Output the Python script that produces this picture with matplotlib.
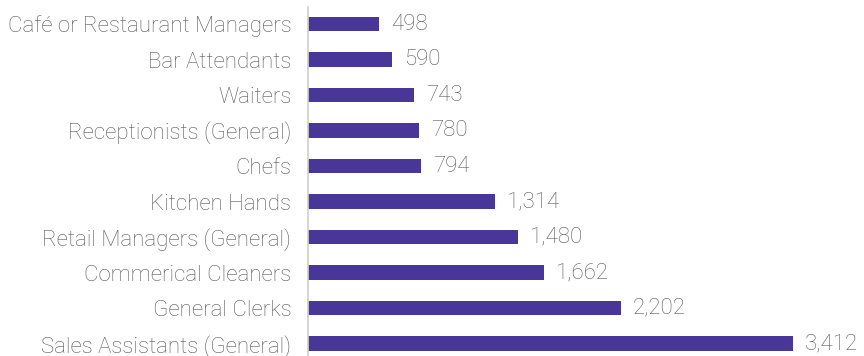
import matplotlib
matplotlib.use("Agg")
import matplotlib.pyplot as plt

occupations = [
    "Café or Restaurant Managers",
    "Bar Attendants",
    "Waiters",
    "Receptionists (General)",
    "Chefs",
    "Kitchen Hands",
    "Retail Managers (General)",
    "Commerical Cleaners",
    "General Clerks",
    "Sales Assistants (General)",
]
counts = [498, 590, 743, 780, 794, 1314, 1480, 1662, 2202, 3412]

BAR_COLOR = "#483698"
TEXT_COLOR = "#595959"
plt.rcParams["font.family"] = ["Roboto", "DejaVu Sans"]

W, H = 864, 356
fig = plt.figure(figsize=(W / 100, H / 100), dpi=100)
ax = fig.add_axes([308 / W, 0, (W - 308) / W, (H - 7) / H])

ypos = list(range(len(occupations)))
ax.barh(ypos, counts, height=0.4, color=BAR_COLOR)
ax.set_xlim(0, (W - 308) / 0.1421)
ax.set_ylim(9.35, -0.48)

for y, v in zip(ypos, counts):
    ax.text(v + 85, y, f"{v:,}", va="center", ha="left",
            fontsize=16, color=TEXT_COLOR, fontweight="light")

ax.set_yticks(ypos)
ax.set_yticklabels(occupations, fontsize=16, color=TEXT_COLOR, fontweight="light")
ax.tick_params(axis="y", length=0, pad=12)
ax.set_xticks([])
for s in ["top", "right", "bottom"]:
    ax.spines[s].set_visible(False)
ax.spines["left"].set_color("#d0d0d0")
ax.spines["left"].set_linewidth(1.2)

fig.savefig("out.png", dpi=100)
